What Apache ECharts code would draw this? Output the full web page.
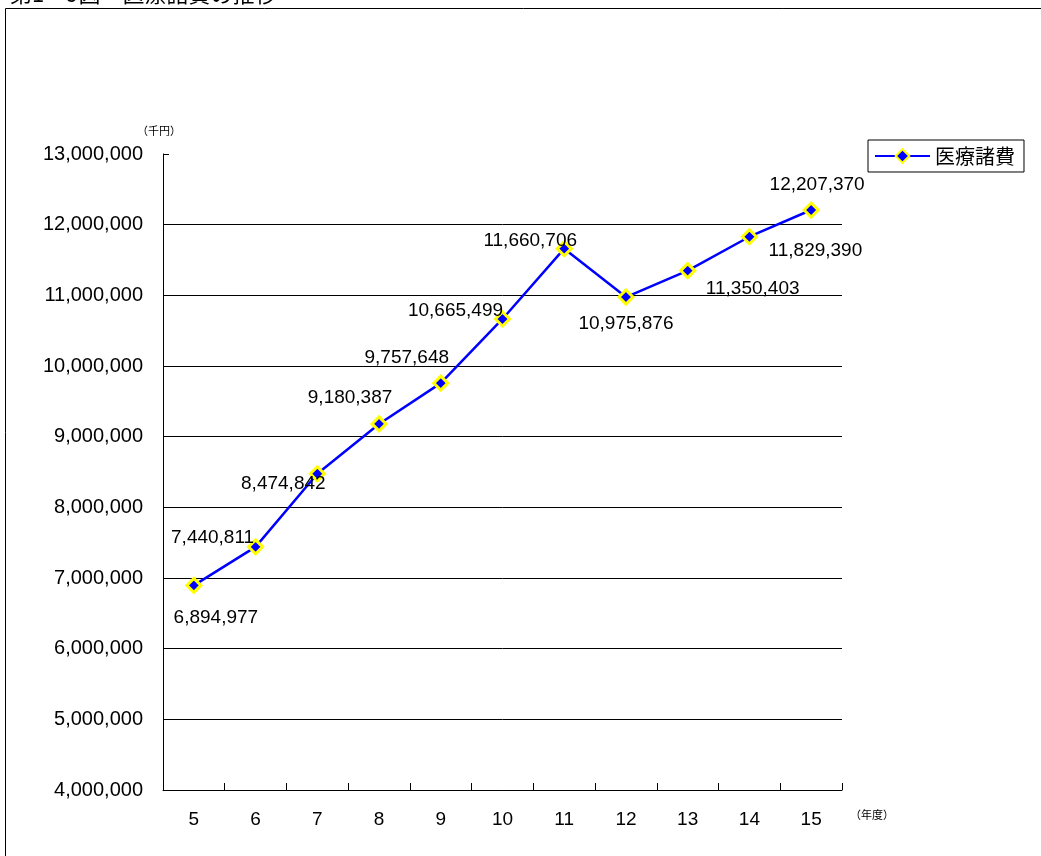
<!DOCTYPE html>
<html><head><meta charset="utf-8">
<script src="https://cdn.jsdelivr.net/npm/echarts@6/dist/echarts.min.js"></script>
<style>html,body{margin:0;padding:0;background:#fff}#c{width:1041px;height:856px}</style>
</head><body><div id="c"></div>
<script>
const categories = ['5','6','7','8','9','10','11','12','13','14','15'];
const values = [6894977,7440811,8474842,9180387,9757648,10665499,11660706,10975876,11350403,11829390,12207370];
const labelOffsets = [[22,32],[-43,-9],[-34,10],[-29,-26],[-34,-25],[-47,-8],[-34,-8],[0,27],[65,18],[66,14],[6,-25]];
const seriesName = '医療諸費';
const titleText = '第1－9図　医療諸費の推移';
const yUnit = '（千円）';
const xUnit = '（年度）';

const numFont = '"Liberation Sans", Arial, sans-serif';
const jpFont = '"Noto Sans CJK JP", sans-serif';
const chart = echarts.init(document.getElementById('c'));
chart.setOption({
  animation: false,
  backgroundColor: '#fff',
  grid: {left: 163, right: 199, top: 154, bottom: 66},
  legend: {
    left: 868, top: 140, padding: [6, 9, 6, 6],
    borderColor: '#000', borderWidth: 1, borderRadius: 0,
    itemWidth: 55, itemHeight: 17, itemGap: 6,
    textStyle: {fontFamily: jpFont, fontSize: 20, color: '#000'},
    data: [seriesName]
  },
  xAxis: {
    type: 'category', data: categories, boundaryGap: true,
    axisLine: {lineStyle: {color: '#000', width: 1}},
    axisTick: {show: true, inside: true, length: 7, lineStyle: {color: '#000', width: 1}},
    axisLabel: {color: '#000', fontSize: 19, fontFamily: numFont, margin: 20}
  },
  yAxis: {
    type: 'value', min: 4000000, max: 13000000, interval: 1000000,
    axisLine: {show: true, lineStyle: {color: '#000', width: 1}},
    axisTick: {show: true, inside: true, length: 6, lineStyle: {color: '#000'}},
    axisLabel: {color: '#000', fontSize: 20, fontFamily: numFont, margin: 20,
      formatter: v => v.toLocaleString('en-US')},
    splitLine: {show: true, showMaxLine: false, lineStyle: {color: '#000', width: 1}}
  },
  series: [{
    name: seriesName, type: 'line', data: values.map((v, i) => ({
      value: v,
      label: {offset: labelOffsets[i]}
    })),
    lineStyle: {color: '#0000ff', width: 2.5},
    itemStyle: {color: '#0000ff', borderColor: '#ffff00', borderWidth: 3},
    symbol: 'diamond', symbolSize: 14,
    label: {show: true, position: 'inside', color: '#000', fontSize: 19, fontFamily: numFont,
      formatter: p => p.value.toLocaleString('en-US')}
  }],
  graphic: [
    {type: 'rect', shape: {x: 5.5, y: 8.5, width: 1200, height: 1000}, style: {fill: 'none', stroke: '#000', lineWidth: 1}, silent: true},
    {type: 'text', left: 10, top: -17, style: {text: titleText, font: '22px ' + jpFont, fill: '#000'}},
    {type: 'text', left: 137, top: 125, style: {text: yUnit, font: '11px ' + jpFont, fill: '#000'}},
    {type: 'text', left: 850, top: 809, style: {text: xUnit, font: '11px ' + jpFont, fill: '#000'}}
  ]
});
</script></body></html>
